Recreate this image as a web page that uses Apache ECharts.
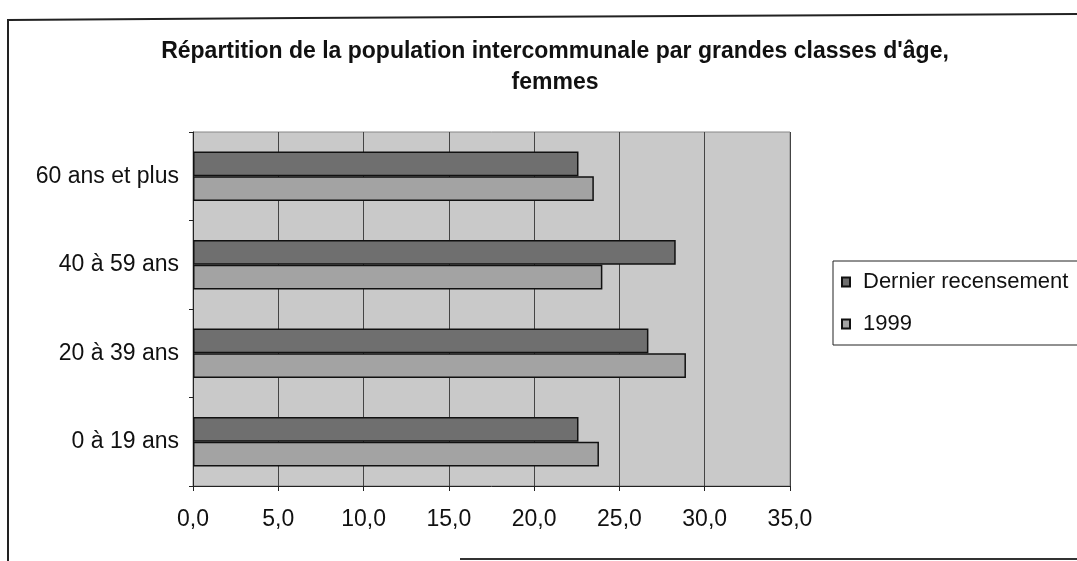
<!DOCTYPE html>
<html>
<head>
<meta charset="utf-8">
<script src="https://cdn.jsdelivr.net/npm/echarts@6/dist/echarts.min.js"></script>
<style>
  html, body { margin: 0; padding: 0; background: #fff; }
  #chart { width: 1077px; height: 561px; }
</style>
</head>
<body>
<div id="chart"></div>
<script>
// categories, top to bottom
const categories = ['60 ans et plus', '40 à 59 ans', '20 à 39 ans', '0 à 19 ans']
const seriesNames = ['Dernier recensement', '1999']
const dernierValues = [22.6, 28.3, 26.7, 22.6]
const values1999 = [23.5, 24.0, 28.9, 23.8]
const xTicks = [0, 5, 10, 15, 20, 25, 30, 35]

const font = 'Liberation Sans'
const chart = echarts.init(document.getElementById('chart'))

const barStyle = (color) => ({ color: color, borderColor: '#111', borderWidth: 1.5 })

chart.setOption({
  animation: false,
  backgroundColor: '#fff',
  textStyle: { fontFamily: font },
  title: {
    text: 'Répartition de la population intercommunale par grandes classes d\'âge,\nfemmes',
    left: 550,
    textAlign: 'center',
    top: 31,
    textStyle: { fontFamily: font, fontSize: 23, fontWeight: 'bold', color: '#111', lineHeight: 31 }
  },
  legend: {
    orient: 'vertical',
    left: 833,
    top: 261,
    padding: [10, 10, 10, 8],
    itemGap: 20,
    itemWidth: 8,
    itemHeight: 9,
    icon: 'rect',
    borderColor: '#222',
    borderWidth: 1,
    data: seriesNames,
    textStyle: { fontFamily: font, fontSize: 22, color: '#111', padding: [0, 0, 0, 8] }
  },
  grid: {
    left: 193, right: 287, top: 132, bottom: 75,
    show: true, backgroundColor: '#c9c9c9', borderColor: '#888', borderWidth: 1
  },
  xAxis: {
    type: 'value',
    min: xTicks[0],
    max: xTicks[xTicks.length - 1],
    interval: 5,
    axisLine: { show: true, lineStyle: { color: '#222', width: 1 } },
    axisTick: { show: true, length: 5, lineStyle: { color: '#222' } },
    splitLine: { show: true, lineStyle: { color: '#444', width: 1 } },
    axisLabel: {
      margin: 22, fontSize: 23, color: '#111', fontFamily: font,
      formatter: (v) => v.toFixed(1).replace('.', ',')
    }
  },
  yAxis: {
    type: 'category',
    inverse: true,
    data: categories,
    axisLine: { show: true, lineStyle: { color: '#222' } },
    axisTick: { show: true, length: 4, lineStyle: { color: '#222' } },
    splitLine: { show: false },
    axisLabel: { margin: 14, fontSize: 23, color: '#111', fontFamily: font }
  },
  series: [
    {
      name: seriesNames[0], type: 'bar', data: dernierValues,
      barGap: '0%', barCategoryGap: '44%',
      itemStyle: barStyle('#6f6f6f')
    },
    {
      name: seriesNames[1], type: 'bar', data: values1999,
      barGap: '0%', barCategoryGap: '44%',
      itemStyle: barStyle('#a3a3a3')
    }
  ],
  graphic: [
    { type: 'polyline', shape: { points: [[8, 561], [8, 20], [300, 18], [1077, 14]] }, style: { stroke: '#222', lineWidth: 2, fill: null } },
    { type: 'line', shape: { x1: 460, y1: 559, x2: 1077, y2: 559 }, style: { stroke: '#333', lineWidth: 2 } }
  ]
})
</script>
</body>
</html>
